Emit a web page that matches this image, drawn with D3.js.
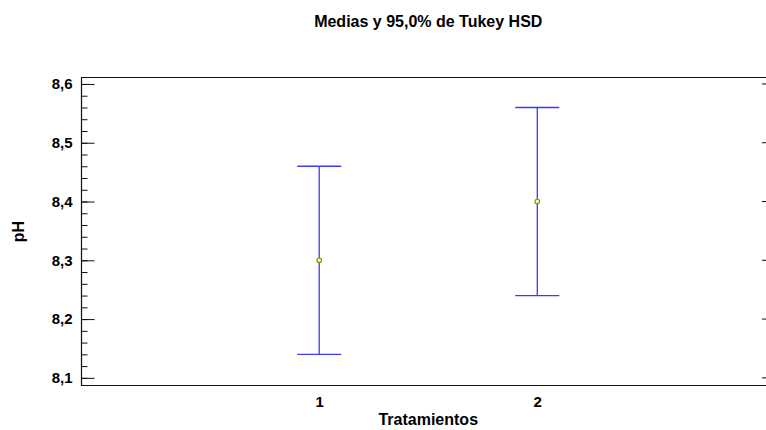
<!DOCTYPE html>
<html>
<head>
<meta charset="utf-8">
<script src="https://cdn.jsdelivr.net/npm/d3@7"></script>
<style>
  html, body { margin: 0; padding: 0; background: #fff; overflow: hidden; }
  svg { display: block; font-family: "Liberation Sans", Arial, sans-serif; }
  .axis path { display: none; }
  .axis line { stroke: #111; stroke-width: 1; }
  .axis text { font-size: 15px; font-weight: bold; fill: #000; }
  .label { font-size: 16px; font-weight: bold; fill: #000; }
</style>
</head>
<body>
<script>
// data
const categories = ['1', '2']
const means = [8.3, 8.4]
const lower = [8.14, 8.24]
const upper = [8.46, 8.56]
const yTicks = [8.1, 8.2, 8.3, 8.4, 8.5, 8.6]
const yMinorTicks = d3.range(8.1, 8.6001, 0.02)
const title = 'Medias y 95,0% de Tukey HSD'
const xAxisLabel = 'Tratamientos'
const yAxisLabel = 'pH'

const width = 766
const height = 430
// the plot frame runs past the right edge of the window
const margin = { top: 77.5, bottom: 44.5, left: 81.5, right: -9 }
const innerWidth = width - margin.left - margin.right
const innerHeight = height - margin.top - margin.bottom

const dataset = categories.map((c, i) => ({
  cat: +c, mean: means[i], lo: lower[i], hi: upper[i]
}))

const svg = d3.select('body')
  .append('svg')
  .attr('width', width)
  .attr('height', height)

const main = svg.append('g')
  .attr('transform', `translate(${margin.left}, ${margin.top})`)

const xScale = d3.scaleLinear()
  .domain([-0.09, 3.09])
  .range([0, innerWidth])

const yScale = d3.scaleLinear()
  .domain([8.087, 8.611])
  .range([innerHeight, 0])

// left tick marks, minor then major with labels
main.append('g')
  .attr('class', 'axis')
  .call(d3.axisLeft(yScale).tickValues(yMinorTicks).tickSize(-6).tickFormat(''))
  .selectAll('text').remove()

main.append('g')
  .attr('class', 'axis')
  .call(d3.axisLeft(yScale)
    .tickValues(yTicks)
    .tickSize(-13)
    .tickPadding(9)
    .tickFormat(d => d3.format('.1f')(d).replace('.', ',')))

// right side tick marks (inward, from the off-screen right border)
main.append('g')
  .selectAll('line')
  .data(yTicks)
  .enter()
  .append('line')
  .attr('x1', innerWidth - 13)
  .attr('x2', innerWidth)
  .attr('y1', d => yScale(d))
  .attr('y2', d => yScale(d))
  .attr('stroke', '#111')

// x axis labels (no tick marks)
main.append('g')
  .attr('class', 'axis')
  .attr('transform', `translate(0, ${innerHeight})`)
  .call(d3.axisBottom(xScale)
    .tickValues(categories.map(Number))
    .tickSize(0)
    .tickPadding(11)
    .tickFormat(d3.format('d')))

// frame: left, top and bottom
main.append('path')
  .attr('d', `M${innerWidth},0H0V${innerHeight}H${innerWidth}`)
  .attr('fill', 'none')
  .attr('stroke', '#111')
  .attr('stroke-width', 1.2)

// error bars
const bars = main.append('g')
  .selectAll('g')
  .data(dataset)
  .enter()
  .append('g')
  .attr('stroke', '#3a3aff')
  .attr('stroke-width', 1.3)

bars.append('line')
  .attr('x1', d => xScale(d.cat))
  .attr('x2', d => xScale(d.cat))
  .attr('y1', d => yScale(d.hi))
  .attr('y2', d => yScale(d.lo))

bars.append('line')
  .attr('x1', d => xScale(d.cat) - 22)
  .attr('x2', d => xScale(d.cat) + 22)
  .attr('y1', d => yScale(d.hi))
  .attr('y2', d => yScale(d.hi))

bars.append('line')
  .attr('x1', d => xScale(d.cat) - 22)
  .attr('x2', d => xScale(d.cat) + 22)
  .attr('y1', d => yScale(d.lo))
  .attr('y2', d => yScale(d.lo))

// means
main.append('g')
  .selectAll('circle')
  .data(dataset)
  .enter()
  .append('circle')
  .attr('cx', d => xScale(d.cat))
  .attr('cy', d => yScale(d.mean))
  .attr('r', 2.3)
  .attr('fill', '#ffffa0')
  .attr('stroke', '#8a8a00')
  .attr('stroke-width', 1.1)

// title
svg.append('text')
  .attr('class', 'label')
  .attr('x', margin.left + innerWidth / 2)
  .attr('y', 27)
  .attr('text-anchor', 'middle')
  .text(title)

// x-axis label
svg.append('text')
  .attr('class', 'label')
  .attr('x', margin.left + innerWidth / 2)
  .attr('y', 425)
  .attr('text-anchor', 'middle')
  .text(xAxisLabel)

// y-axis label
svg.append('text')
  .attr('class', 'label')
  .attr('text-anchor', 'middle')
  .attr('transform', `translate(24, ${margin.top + innerHeight / 2}) rotate(-90)`)
  .text(yAxisLabel)
</script>
</body>
</html>
